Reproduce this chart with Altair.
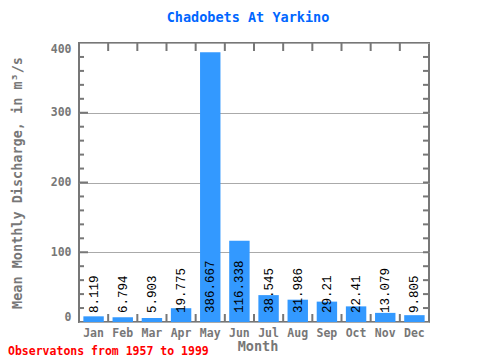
import altair as alt
import pandas as pd

months = ["Jan", "Feb", "Mar", "Apr", "May", "Jun", "Jul", "Aug", "Sep", "Oct", "Nov", "Dec"]
values = [8.119, 6.794, 5.903, 19.775, 386.667, 116.338, 38.545, 31.986, 29.21, 22.41, 13.079, 9.805]
labels = ["8.119", "6.794", "5.903", "19.775", "386.667", "116.338", "38.545", "31.986", "29.21", "22.41", "13.079", "9.805"]
y_ticks = [0, 100, 200, 300, 400]
minor_ticks = [20, 40, 60, 80, 120, 140, 160, 180, 220, 240, 260, 280, 320, 340, 360, 380]
major_ticks = [100, 200, 300]

title_text = "Chadobets At Yarkino"
y_title = "Mean Monthly Discharge, in m³/s"
x_title = "Month"
footnote = "Observatons from 1957 to 1999"

W, H = 350, 279
GRAY = "#777777"
MONO = "DejaVu Sans Mono"

df = pd.DataFrame({"Month": months, "Value": values, "Label": labels})
minor_df = pd.DataFrame({"v": minor_ticks})
major_df = pd.DataFrame({"v": major_ticks})

xs = alt.Scale(domain=months, paddingInner=0, paddingOuter=0)
ys = alt.Scale(domain=[0, 400], nice=False, zero=True)

x_enc = alt.X("Month:N", sort=months, scale=xs, title=None,
              axis=alt.Axis(labelAngle=0, labelFont=MONO, labelFontWeight="bold",
                            labelFontSize=11.5, labelColor=GRAY, labelPadding=5,
                            ticks=False, domain=False, grid=False))

bars = alt.Chart(df).mark_bar(color="#3399ff", width=alt.RelativeBandSize(0.7)).encode(
    x=x_enc,
    y=alt.Y("Value:Q", scale=ys, title=None,
            axis=alt.Axis(values=y_ticks, labelFont=MONO, labelFontWeight="bold",
                          labelFontSize=11.5, labelColor=GRAY, labelPadding=8,
                          labelFlush=True, ticks=False, domain=False,
                          grid=True, gridColor="#aaaaaa", gridWidth=1)),
)

text = alt.Chart(df).mark_text(angle=270, align="left", baseline="middle",
                               fontSize=12.5, font="Liberation Mono", color="black").encode(
    x=alt.X("Month:N", sort=months, scale=xs),
    y=alt.value(H - 9),
    text="Label:N",
)

bottom_ticks = alt.Chart(df).mark_rule(color=GRAY, strokeWidth=2).encode(
    x=alt.X("Month:N", sort=months, scale=xs, bandPosition=0),
    y=alt.value(H), y2=alt.value(H - 8),
)
top_ticks = alt.Chart(df).mark_rule(color=GRAY, strokeWidth=2).encode(
    x=alt.X("Month:N", sort=months, scale=xs, bandPosition=0),
    y=alt.value(0), y2=alt.value(8),
)

left_minor = alt.Chart(minor_df).mark_rule(color=GRAY, strokeWidth=2).encode(
    y=alt.Y("v:Q", scale=ys), x=alt.value(0), x2=alt.value(5))
left_major = alt.Chart(major_df).mark_rule(color=GRAY, strokeWidth=2).encode(
    y=alt.Y("v:Q", scale=ys), x=alt.value(0), x2=alt.value(9))
right_minor = alt.Chart(minor_df).mark_rule(color=GRAY, strokeWidth=2).encode(
    y=alt.Y("v:Q", scale=ys), x=alt.value(W - 6), x2=alt.value(W))
right_major = alt.Chart(major_df).mark_rule(color=GRAY, strokeWidth=2).encode(
    y=alt.Y("v:Q", scale=ys), x=alt.value(W - 6), x2=alt.value(W))

title_mark = alt.Chart(pd.DataFrame({"t": [title_text]})).mark_text(
    font=MONO, fontSize=13.5, fontWeight="bold", color="#0066ff",
    align="center", baseline="middle").encode(
    x=alt.value(248 - 79), y=alt.value(18 - 43), text="t:N")

ytitle_mark = alt.Chart(pd.DataFrame({"t": [y_title]})).mark_text(
    font=MONO, fontSize=13.5, fontWeight="bold", color=GRAY, angle=270,
    align="center", baseline="middle").encode(
    x=alt.value(18 - 79), y=alt.value(183 - 43), text="t:N")

xtitle_mark = alt.Chart(pd.DataFrame({"t": [x_title]})).mark_text(
    font=MONO, fontSize=13.5, fontWeight="bold", color=GRAY,
    align="center", baseline="middle").encode(
    x=alt.value(258 - 79), y=alt.value(347 - 43), text="t:N")

foot_mark = alt.Chart(pd.DataFrame({"t": [footnote]})).mark_text(
    font=MONO, fontSize=11.5, fontWeight="bold", color="#ff0000",
    align="left", baseline="middle").encode(
    x=alt.value(8 - 79), y=alt.value(352 - 43), text="t:N")

chart = alt.layer(
    bars, text, bottom_ticks, top_ticks, left_minor, left_major, right_minor, right_major,
    title_mark, ytitle_mark, xtitle_mark, foot_mark,
).properties(
    width=W, height=H,
    autosize=alt.AutoSizeParams(type="none"),
    padding={"left": 71, "top": 35, "right": 43, "bottom": 40},
).configure_view(stroke=GRAY, strokeWidth=2)

chart.save("out.html", embed_options={"renderer": "svg", "actions": False})
